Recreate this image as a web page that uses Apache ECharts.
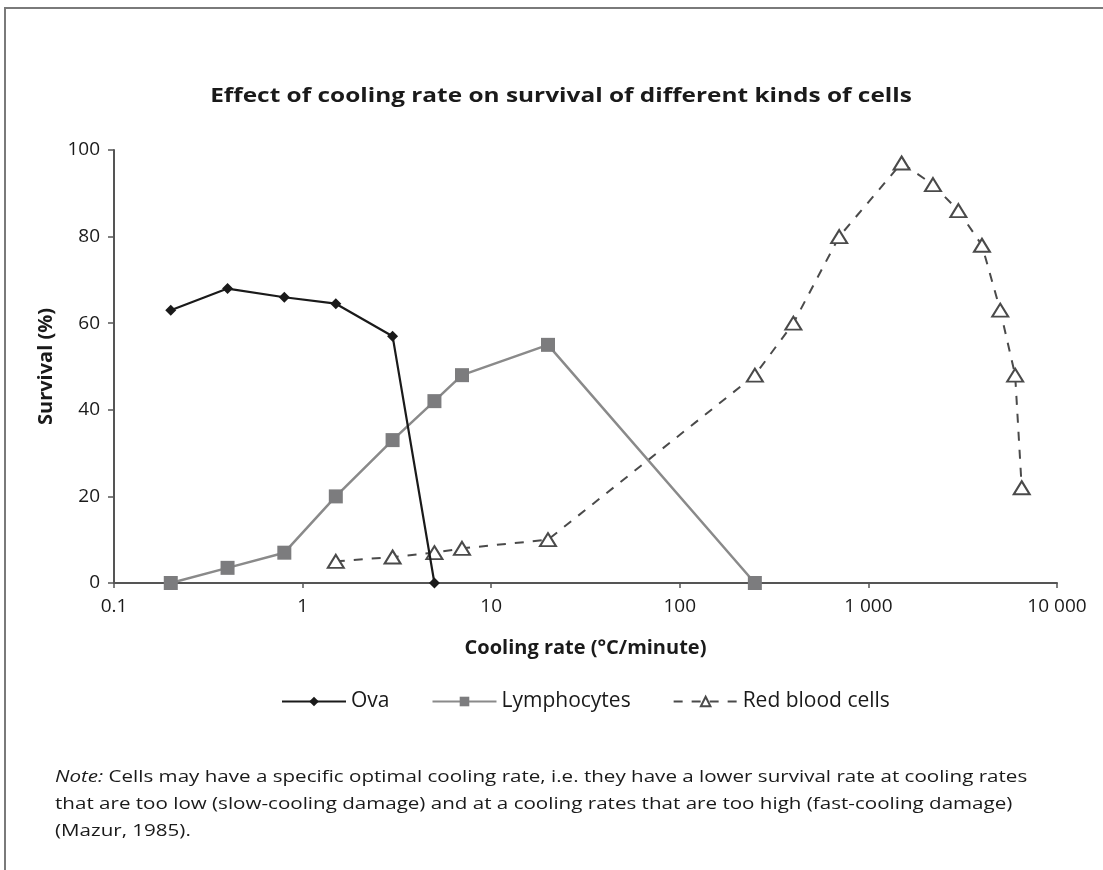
<!DOCTYPE html>
<html>
<head>
<meta charset="utf-8">
<title>Effect of cooling rate on survival of different kinds of cells</title>
<script src="https://cdn.jsdelivr.net/npm/echarts@6/dist/echarts.min.js"></script>
<style>
  html, body { margin: 0; padding: 0; background: #fff; }
  #chart { width: 1103px; height: 870px; }
</style>
</head>
<body>
<div id="chart"></div>
<script>
// Cooling rate (°C/minute) and survival (%) per cell type
const ovaRate = [0.2, 0.4, 0.8, 1.5, 3, 5];
const ovaSurvival = [63, 68, 66, 64.5, 57, 0];

const lymphRate = [0.2, 0.4, 0.8, 1.5, 3, 5, 7, 20, 250];
const lymphSurvival = [0, 3.5, 7, 20, 33, 42, 48, 55, 0];

const rbcRate = [1.5, 3, 5, 7, 20, 250, 400, 700, 1500, 2200, 3000, 4000, 5000, 6000, 6500];
const rbcSurvival = [5, 6, 7, 8, 10, 48, 60, 80, 97, 92, 86, 78, 63, 48, 22];

const xTickLabels = { 0.1: '0.1', 1: '1', 10: '10', 100: '100', 1000: '1 000', 10000: '10 000' };

const titleText = 'Effect of cooling rate on survival of different kinds of cells';
const noteLines = [
  '{i|Note:} Cells may have a specific optimal cooling rate, i.e. they have a lower survival rate at cooling rates',
  'that are too low (slow-cooling damage) and at a cooling rates that are too high (fast-cooling damage)',
  '(Mazur, 1985).'
];

const FONT = '"Open Sans", "Noto Sans", sans-serif';
const INK = '#1a1a1a';
const pairs = (xs, ys) => xs.map((x, i) => [x, ys[i]]);

const chart = echarts.init(document.getElementById('chart'), null, { renderer: 'canvas' });

chart.setOption({
  backgroundColor: '#fff',
  animation: false,
  grid: { left: 114, right: 46, top: 150, bottom: 287, containLabel: false },
  legend: {
    top: 686,
    left: 276,
    itemGap: 42,
    itemWidth: 64,
    itemHeight: 12,
    textStyle: { fontFamily: FONT, fontSize: 21, color: INK },
    data: ['Ova', 'Lymphocytes', 'Red blood cells']
  },
  xAxis: {
    type: 'log',
    logBase: 10,
    min: 0.1,
    max: 10000,
    name: 'Cooling rate (°C/minute)',
    nameLocation: 'middle',
    nameGap: 55,
    nameTextStyle: { fontFamily: FONT, fontSize: 20, fontWeight: 'bold', color: INK },
    axisLine: { show: true, lineStyle: { color: '#555', width: 2 } },
    axisTick: { show: true, length: 5, lineStyle: { color: '#555', width: 1.5 } },
    minorTick: { show: false },
    splitLine: { show: false },
    axisLabel: {
      fontFamily: FONT, fontSize: 19, color: INK, margin: 14,
      formatter: v => {
        const key = Number(v);
        for (const k in xTickLabels) {
          if (Math.abs(Number(k) - key) / Number(k) < 1e-6) return xTickLabels[k];
        }
        return '';
      }
    }
  },
  yAxis: {
    type: 'value',
    min: 0,
    max: 100,
    interval: 20,
    name: 'Survival (%)',
    nameLocation: 'middle',
    nameGap: 58,
    nameRotate: 90,
    nameTextStyle: { fontFamily: FONT, fontSize: 20, fontWeight: 'bold', color: INK },
    axisLine: { show: true, lineStyle: { color: '#555', width: 2 } },
    axisTick: { show: true, length: 6, lineStyle: { color: '#555', width: 1.5 } },
    splitLine: { show: false },
    axisLabel: { fontFamily: FONT, fontSize: 19, color: INK, margin: 14 }
  },
  series: [
    {
      name: 'Ova',
      type: 'line',
      data: pairs(ovaRate, ovaSurvival),
      symbol: 'diamond',
      symbolSize: [11, 11],
      showAllSymbol: true,
      lineStyle: { color: INK, width: 2.2 },
      itemStyle: { color: INK, borderWidth: 0 },
      z: 4
    },
    {
      name: 'Lymphocytes',
      type: 'line',
      data: pairs(lymphRate, lymphSurvival),
      symbol: 'rect',
      symbolSize: 14,
      showAllSymbol: true,
      lineStyle: { color: '#8a8a8a', width: 2.5 },
      itemStyle: { color: '#7c7c7e', borderWidth: 0 },
      z: 3
    },
    {
      name: 'Red blood cells',
      type: 'line',
      data: pairs(rbcRate, rbcSurvival),
      symbol: 'triangle',
      symbolSize: [16, 13],
      showAllSymbol: true,
      lineStyle: { color: '#4a4a4a', width: 2, type: [9, 9] },
      itemStyle: { color: '#fff', borderColor: '#4a4a4a', borderWidth: 2 },
      z: 2
    }
  ],
  graphic: [
    {
      // frame round the figure
      type: 'polyline',
      shape: { points: [[5, 870], [5, 8], [1103, 8]] },
      style: { stroke: '#7a7a7a', lineWidth: 2, fill: null },
      silent: true
    },
    {
      type: 'text',
      x: 561,
      y: 96,
      scaleX: 1.22,
      style: {
        text: titleText,
        fontFamily: FONT,
        fontSize: 20,
        fontWeight: 'bold',
        fill: INK,
        align: 'center',
        verticalAlign: 'middle'
      },
      silent: true
    },
    {
      type: 'text',
      x: 55,
      y: 764,
      scaleX: 1.21,
      style: {
        text: noteLines.join('\n'),
        fontFamily: FONT,
        fontSize: 17,
        lineHeight: 27,
        fill: INK,
        rich: {
          i: { fontFamily: FONT, fontSize: 17, fontStyle: 'italic', fill: INK }
        }
      },
      silent: true
    }
  ]
});
</script>
</body>
</html>
